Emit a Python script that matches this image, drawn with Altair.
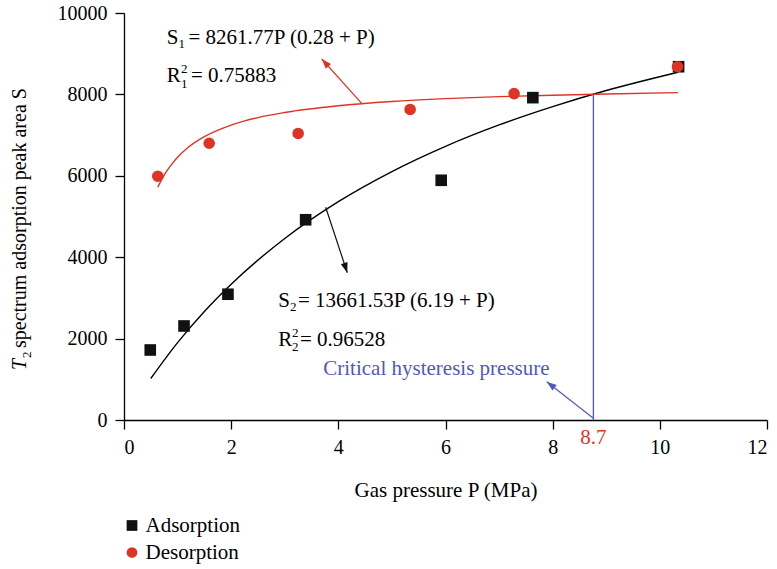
import altair as alt
import pandas as pd

# ---------------- data ----------------
ads_P = [0.49, 1.12, 1.94, 3.39, 5.92, 7.63, 10.35]
ads_S = [1720, 2310, 3090, 4920, 5890, 7920, 8680]
des_P = [0.63, 1.59, 3.25, 5.34, 7.28, 10.33]
des_S = [5990, 6800, 7040, 7630, 8020, 8680]

# fitted curves
fit1_P = [0.63, 0.7, 0.8, 0.9, 1.0, 1.2, 1.5, 2.0, 2.5, 3.0, 4.0, 5.0, 6.0, 7.0, 8.0, 9.0, 10.34]
fit1_S = [5720, 5900, 6120, 6300, 6455, 6700, 6960, 7245, 7430, 7555, 7720, 7825, 7895, 7945, 7980, 8010, 8045]
fit2_P = [0.5, 1.0, 1.5, 2.0, 3.0, 4.0, 5.0, 6.0, 7.0, 8.0, 9.0, 10.34]
fit2_S = [1020, 1900, 2665, 3335, 4460, 5365, 6105, 6725, 7250, 7700, 8095, 8545]

# critical hysteresis pressure marker
crit_P = [8.76]
crit_S = [8006]

x_ticks = [0, 2, 4, 6, 8, 10, 12]
y_ticks = [0, 2000, 4000, 6000, 8000, 10000]
series_names = ["Adsorption", "Desorption"]

# annotations (black)
ann_text = ["S", "1", "= 8261.77P (0.28 + P)",
            "R", "2", "1", "= 0.75883",
            "S", "2", "= 13661.53P (6.19 + P)",
            "R", "2", "2", "= 0.96528"]
ann_P = [0.797, 1.017, 1.204,
         0.797, 1.064, 1.064, 1.250,
         2.880, 3.098, 3.247,
         2.880, 3.135, 3.135, 3.285]
ann_S = [9238, 9140, 9238,
         8312, 8538, 8145, 8312,
         2769, 2678, 2769,
         1826, 2039, 1695, 1826]
ann_fs = [21, 13, 21,
          21, 13, 13, 21,
          21, 13, 21,
          21, 13, 13, 21]

blue_text = ["Critical hysteresis pressure"]
blue_P = [3.719]
blue_S = [1106]

red_text = ["8.7"]
red_P = [8.759]
red_S = [-590]

# y-axis title pieces (rotated)
yt_text = ["2", "spectrum adsorption peak area S"]
yt_P = [-1.736, -1.829]
yt_S = [1523, 1769]
yt_fs = [13, 20]
yt_italic_text = ["T"]
yt_italic_P = [-1.829]
yt_italic_S = [1229]

# arrows: tail -> tip
arrow_P = [4.436, 3.764, 8.759]
arrow_S = [7781, 5226, 42]
arrow_P2 = [3.690, 4.167, 7.889]
arrow_S2 = [8870, 3619, 941]
arrow_angle = [318, 162, 308]

FONT = "Liberation Serif"
BLACK = "#111111"
RED = "#df3325"
BLUE = "#5057c0"
arrow_color = [RED, BLACK, BLUE]

W, H = 643, 407

xs = alt.Scale(domain=[0, 12], nice=False, zero=False)
ys = alt.Scale(domain=[0, 10000], nice=False, zero=False)
xaxis = alt.Axis(title="Gas pressure P (MPa)", values=x_ticks, format="d")
yaxis = alt.Axis(title=None, values=y_ticks, format="d")


def X(f="P"):
    return alt.X(f"{f}:Q", scale=xs, axis=xaxis)


def Y(f="S"):
    return alt.Y(f"{f}:Q", scale=ys, axis=yaxis)


layers = []

# fitted curves
fit1 = pd.DataFrame({"P": fit1_P, "S": fit1_S})
fit2 = pd.DataFrame({"P": fit2_P, "S": fit2_S})
layers.append(alt.Chart(fit2).mark_line(color="#000000", strokeWidth=1.4, interpolate="monotone")
              .encode(x=X(), y=Y()))
layers.append(alt.Chart(fit1).mark_line(color=RED, strokeWidth=1.4, interpolate="monotone")
              .encode(x=X(), y=Y()))

# critical vertical line
crit = pd.DataFrame({"P": crit_P, "S": crit_S, "S0": [0] * len(crit_P)})
layers.append(alt.Chart(crit).mark_rule(color=BLUE, strokeWidth=1.3)
              .encode(x=X(), y=Y("S0"), y2=alt.Y2("S:Q")))

# arrows
for i in range(len(arrow_P)):
    adf = pd.DataFrame({"P": [arrow_P[i]], "S": [arrow_S[i]],
                        "P2": [arrow_P2[i]], "S2": [arrow_S2[i]]})
    layers.append(alt.Chart(adf).mark_rule(color=arrow_color[i], strokeWidth=1.2)
                  .encode(x=X(), y=Y(), x2=alt.X2("P2:Q"), y2=alt.Y2("S2:Q")))
    layers.append(alt.Chart(adf).mark_point(shape="M0,0L-0.7,2L0.7,2Z", size=100, filled=True,
                                            opacity=1, color=arrow_color[i],
                                            angle=arrow_angle[i])
                  .encode(x=X("P2"), y=Y("S2")))

# data points
pts = pd.DataFrame({"P": ads_P + des_P, "S": ads_S + des_S,
                    "series": [series_names[0]] * len(ads_P) + [series_names[1]] * len(des_P)})
leg = alt.Legend(title=None, orient="none", legendX=-2.5, legendY=502, direction="vertical",
                 labelFont=FONT, labelFontSize=21, labelColor="#000000", symbolSize=115,
                 rowPadding=5, labelOffset=3, padding=0, symbolStrokeWidth=0, symbolOpacity=1)
layers.append(alt.Chart(pts).mark_point(filled=True, size=135, opacity=1, strokeWidth=0)
              .encode(x=X(), y=Y(),
                      color=alt.Color("series:N", scale=alt.Scale(domain=series_names, range=[BLACK, RED]),
                                      legend=leg),
                      shape=alt.Shape("series:N",
                                      scale=alt.Scale(domain=series_names, range=["square", "circle"]),
                                      legend=leg)))

# black annotations
ann = pd.DataFrame({"P": ann_P, "S": ann_S, "t": ann_text, "fs": ann_fs})
layers.append(alt.Chart(ann).mark_text(font=FONT, align="left", baseline="alphabetic", color="#000000")
              .encode(x=X(), y=Y(), text="t:N", size=alt.Size("fs:Q", scale=None)))

bt = pd.DataFrame({"P": blue_P, "S": blue_S, "t": blue_text})
layers.append(alt.Chart(bt).mark_text(font=FONT, align="left", baseline="alphabetic", color=BLUE, fontSize=21)
              .encode(x=X(), y=Y(), text="t:N"))

rt = pd.DataFrame({"P": red_P, "S": red_S, "t": red_text})
layers.append(alt.Chart(rt).mark_text(font=FONT, align="center", baseline="alphabetic", color=RED, fontSize=21)
              .encode(x=X(), y=Y(), text="t:N"))

# y-axis title (rotated text)
yt = pd.DataFrame({"P": yt_P, "S": yt_S, "t": yt_text, "fs": yt_fs})
layers.append(alt.Chart(yt).mark_text(font=FONT, align="left", baseline="alphabetic", color="#000000", angle=270)
              .encode(x=X(), y=Y(), text="t:N", size=alt.Size("fs:Q", scale=None)))
yti = pd.DataFrame({"P": yt_italic_P, "S": yt_italic_S, "t": yt_italic_text})
layers.append(alt.Chart(yti).mark_text(font=FONT, fontStyle="italic", align="left", baseline="alphabetic",
                                       color="#000000", angle=270, fontSize=20)
              .encode(x=X(), y=Y(), text="t:N"))

chart = (
    alt.layer(*layers)
    .properties(width=W, height=H, autosize=alt.AutoSizeParams(type="none"),
                padding={"left": 124, "top": 13, "right": 10, "bottom": 149},
                background="#ffffff")
    .configure_view(stroke=None)
    .configure_axis(grid=False, domainColor="#000000", domainWidth=1.3, tickColor="#000000",
                    tickWidth=1.3, tickSize=9, labelFont=FONT, labelFontSize=20, labelColor="#000000",
                    titleFont=FONT, titleFontSize=21, titleColor="#000000", titleFontWeight="normal")
    .configure_axisX(labelPadding=8, titlePadding=22)
    .configure_axisY(labelPadding=8)
)

chart.save("out.html", embed_options={"renderer": "svg", "actions": False})
